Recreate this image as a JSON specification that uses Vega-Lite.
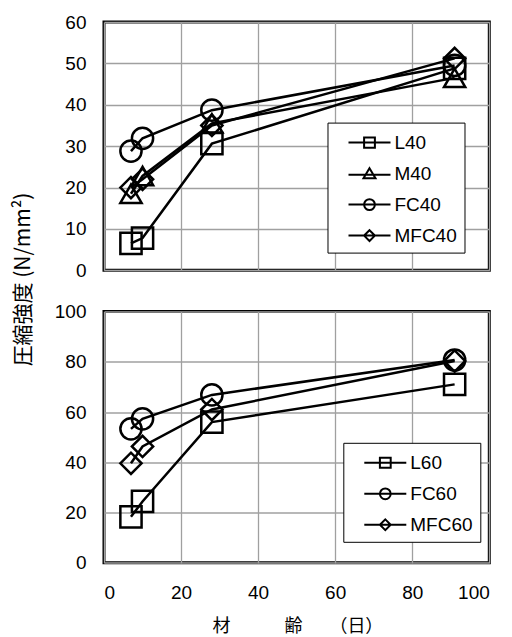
{
  "$schema": "https://vega.github.io/schema/vega-lite/v6.json",
  "padding": {"left": 11, "top": 11, "right": 5, "bottom": 0},
  "datasets": {
    "top": [
      {"series": "L40", "day": 7, "value": 6.5},
      {"series": "L40", "day": 10, "value": 7.8},
      {"series": "L40", "day": 28, "value": 30.6},
      {"series": "L40", "day": 91, "value": 48.8},
      {"series": "M40", "day": 7, "value": 18.5},
      {"series": "M40", "day": 10, "value": 22.8},
      {"series": "M40", "day": 28, "value": 35.5},
      {"series": "M40", "day": 91, "value": 46.5},
      {"series": "FC40", "day": 7, "value": 28.8},
      {"series": "FC40", "day": 10, "value": 31.9},
      {"series": "FC40", "day": 28, "value": 38.7},
      {"series": "FC40", "day": 91, "value": 49.5},
      {"series": "MFC40", "day": 7, "value": 20.0},
      {"series": "MFC40", "day": 10, "value": 22.0},
      {"series": "MFC40", "day": 28, "value": 35.0},
      {"series": "MFC40", "day": 91, "value": 51.2}
    ],
    "bottom": [
      {"series": "L60", "day": 7, "value": 18.3},
      {"series": "L60", "day": 10, "value": 24.4},
      {"series": "L60", "day": 28, "value": 56.0},
      {"series": "L60", "day": 91, "value": 71.0},
      {"series": "FC60", "day": 7, "value": 53.3},
      {"series": "FC60", "day": 10, "value": 57.3},
      {"series": "FC60", "day": 28, "value": 66.8},
      {"series": "FC60", "day": 91, "value": 80.7},
      {"series": "MFC60", "day": 7, "value": 39.6},
      {"series": "MFC60", "day": 10, "value": 46.3},
      {"series": "MFC60", "day": 28, "value": 61.0},
      {"series": "MFC60", "day": 91, "value": 80.3}
    ]
  },
  "config": {
    "view": {"stroke": "black", "strokeWidth": 3},
    "concat": {"spacing": 40.5},
    "axis": {
      "domain": false,
      "ticks": false,
      "grid": true,
      "gridColor": "#a0a0a0",
      "gridWidth": 1.3,
      "labelFont": "Liberation Sans",
      "labelFontSize": 19,
      "labelColor": "black",
      "labelPadding": 18,
      "titleFont": "Noto Sans CJK JP",
      "titleFontWeight": "normal",
      "titleColor": "black"
    },
    "legend": {
      "orient": "none",
      "title": null,
      "fillColor": "white",
      "strokeColor": "black",
      "padding": 7,
      "rowPadding": 8,
      "symbolOffset": 22,
      "labelOffset": 12,
      "labelFont": "Liberation Sans",
      "labelFontSize": 19,
      "labelColor": "black",
      "symbolSize": 576,
      "symbolStrokeWidth": 2,
      "symbolStrokeColor": "black",
      "symbolFillColor": "transparent",
      "symbolOpacity": 1
    }
  },
  "bounds": "flush",
  "vconcat": [
    {
      "width": 385.3,
      "height": 248.3,
      "data": {"name": "top"},
      "layer": [
        {
          "mark": {"type": "line", "color": "black", "strokeWidth": 2.5},
          "encoding": {
            "x": {"field": "day", "type": "quantitative", "scale": {"domain": [0, 100]}, "axis": {"values": [0, 20, 40, 60, 80, 100], "labels": false, "title": null}},
            "y": {"field": "value", "type": "quantitative", "scale": {"domain": [0, 60]}, "axis": {"values": [0, 10, 20, 30, 40, 50, 60], "title": "圧縮強度 (N/mm²)", "titleFontSize": 21, "titleX": -80, "titleY": 257, "titleAngle": -90, "titleAlign": "center", "titleBaseline": "middle"}},
            "detail": {"field": "series"},
            "order": {"field": "day"}
          }
        },
        {
          "mark": {"type": "point", "filled": false, "color": "black", "strokeWidth": 2.5, "size": 450, "opacity": 1},
          "encoding": {
            "x": {"field": "day", "type": "quantitative"},
            "y": {"field": "value", "type": "quantitative"},
            "shape": {
              "field": "series",
              "type": "nominal",
              "scale": {"domain": ["L40", "M40", "FC40", "MFC40"], "range": ["square", "triangle-up", "circle", "diamond"]},
              "legend": null
            }
          }
        },
        {
          "transform": [{"filter": "datum.day < 0"}],
          "mark": {"type": "point", "filled": false, "color": "black", "strokeWidth": 2, "opacity": 1},
          "encoding": {
            "x": {"field": "day", "type": "quantitative"},
            "y": {"field": "value", "type": "quantitative"},
            "shape": {
              "field": "series",
              "type": "nominal",
              "scale": {"domain": ["L40", "M40", "FC40", "MFC40"], "range": ["M-1.75,0H1.75M-0.45,-0.42H0.45V0.42H-0.45Z", "M-1.75,0.1H1.75M0,-0.45L0.5,0.38L-0.5,0.38Z", "M-1.75,0H1.75M0.45,0A0.45,0.45 0 1,1 -0.45,0A0.45,0.45 0 1,1 0.45,0Z", "M-1.75,0H1.75M0,-0.45L0.45,0L0,0.45L-0.45,0Z"]},
              "legend": {"legendX": 223.5, "legendY": 100.6}
            }
          }
        }
      ],
      "resolve": {"scale": {"shape": "independent"}, "legend": {"shape": "independent"}}
    },
    {
      "width": 385.3,
      "height": 251.3,
      "data": {"name": "bottom"},
      "layer": [
        {
          "mark": {"type": "line", "color": "black", "strokeWidth": 2.5},
          "encoding": {
            "x": {"field": "day", "type": "quantitative", "scale": {"domain": [0, 100]}, "axis": {"values": [0, 20, 40, 60, 80, 100], "labelPadding": 21, "title": "材　　　齢　　（日）", "titleFontSize": 18, "titlePadding": 15, "titleX": 108, "titleAlign": "left"}},
            "y": {"field": "value", "type": "quantitative", "scale": {"domain": [0, 100]}, "axis": {"values": [0, 20, 40, 60, 80, 100], "title": null}},
            "detail": {"field": "series"},
            "order": {"field": "day"}
          }
        },
        {
          "mark": {"type": "point", "filled": false, "color": "black", "strokeWidth": 2.5, "size": 450, "opacity": 1},
          "encoding": {
            "x": {"field": "day", "type": "quantitative"},
            "y": {"field": "value", "type": "quantitative"},
            "shape": {
              "field": "series",
              "type": "nominal",
              "scale": {"domain": ["L60", "FC60", "MFC60"], "range": ["square", "circle", "diamond"]},
              "legend": null
            }
          }
        },
        {
          "transform": [{"filter": "datum.day < 0"}],
          "mark": {"type": "point", "filled": false, "color": "black", "strokeWidth": 2, "opacity": 1},
          "encoding": {
            "x": {"field": "day", "type": "quantitative"},
            "y": {"field": "value", "type": "quantitative"},
            "shape": {
              "field": "series",
              "type": "nominal",
              "scale": {"domain": ["L60", "FC60", "MFC60"], "range": ["M-1.75,0H1.75M-0.45,-0.42H0.45V0.42H-0.45Z", "M-1.75,0H1.75M0.45,0A0.45,0.45 0 1,1 -0.45,0A0.45,0.45 0 1,1 0.45,0Z", "M-1.75,0H1.75M0,-0.45L0.45,0L0,0.45L-0.45,0Z"]},
              "legend": {"legendX": 239.3, "legendY": 131.3}
            }
          }
        }
      ],
      "resolve": {"scale": {"shape": "independent"}, "legend": {"shape": "independent"}}
    }
  ],
  "resolve": {"scale": {"shape": "independent", "y": "independent"}, "legend": {"shape": "independent"}}
}
